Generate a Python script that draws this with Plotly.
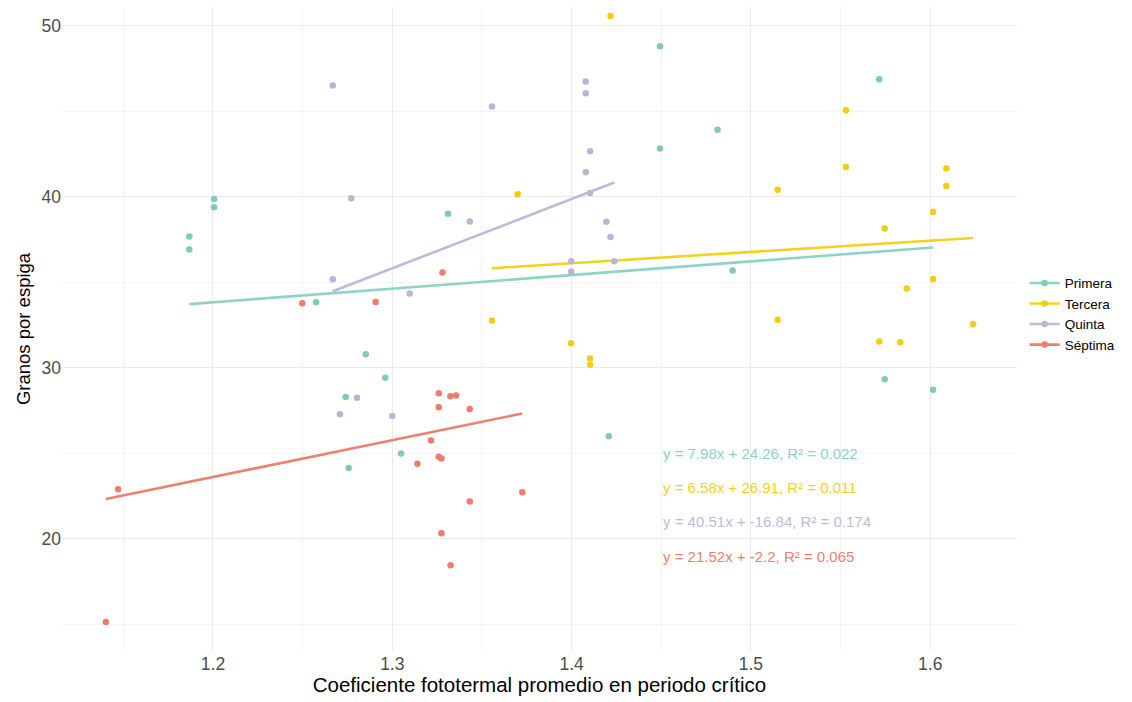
import plotly.graph_objects as go

# ---- data ----
groups = ["Primera", "Tercera", "Quinta", "Séptima"]

primera_x = [1.1868, 1.1868, 1.2006, 1.2006, 1.2575, 1.2740, 1.2757, 1.2852, 1.2961, 1.3049,
             1.3311, 1.4207, 1.4493, 1.4493, 1.4814, 1.4898, 1.5716, 1.5746, 1.6016]
primera_y = [37.68, 36.92, 39.87, 39.40, 33.84, 28.30, 24.15, 30.80, 29.43, 24.99,
             39.02, 26.00, 48.81, 42.83, 43.92, 35.69, 46.88, 29.34, 28.73]

tercera_x = [1.3556, 1.3699, 1.3997, 1.4103, 1.4103, 1.4217, 1.5149, 1.5149, 1.5530, 1.5530,
             1.5716, 1.5746, 1.5833, 1.5869, 1.6016, 1.6016, 1.6090, 1.6090, 1.6239]
tercera_y = [32.77, 40.16, 31.44, 30.55, 30.19, 50.58, 40.41, 32.81, 45.07, 41.74,
             31.54, 38.15, 31.50, 34.64, 39.12, 35.20, 41.66, 40.64, 32.56]

quinta_x = [1.2668, 1.2668, 1.2708, 1.2771, 1.2803, 1.3000, 1.3097, 1.3432, 1.3556, 1.3998,
            1.3998, 1.4079, 1.4079, 1.4079, 1.4103, 1.4103, 1.4194, 1.4217, 1.4238]
quinta_y = [46.51, 35.19, 27.29, 39.92, 28.26, 27.19, 34.35, 38.56, 45.28, 36.24,
            35.63, 46.74, 46.06, 41.44, 42.67, 40.22, 38.54, 37.66, 36.24]

septima_x = [1.1403, 1.1471, 1.2498, 1.2907, 1.3140, 1.3216, 1.3259, 1.3259, 1.3259, 1.3274,
             1.3274, 1.3280, 1.3324, 1.3356, 1.3325, 1.3432, 1.3432, 1.3725]
septima_y = [15.15, 22.90, 33.78, 33.86, 24.40, 25.75, 28.52, 27.70, 24.80, 24.70,
             20.33, 35.58, 28.34, 28.38, 18.46, 27.60, 22.19, 22.73]

slopes = [7.98, 6.58, 40.51, 21.52]
intercepts = [24.26, 26.91, -16.84, -2.2]
r2 = [0.022, 0.011, 0.174, 0.065]
label_y = [25, 23, 21, 19]
label_x = 1.45

xs = [primera_x, tercera_x, quinta_x, septima_x]
ys = [primera_y, tercera_y, quinta_y, septima_y]

point_colors = ["#80CBB8", "#F2CD12", "#B9B5D6", "#EE7D6B"]
line_colors = ["#8DD3C7", "#F2D21C", "#BEBADA", "#EC8171"]

fig = go.Figure()
for g, x, y, m, b, pc, lc in zip(groups, xs, ys, slopes, intercepts, point_colors, line_colors):
    fig.add_trace(go.Scatter(x=x, y=y, mode="markers", name=g, legendgroup=g, showlegend=False,
                             marker=dict(color=pc, size=6.5)))
    x0, x1 = min(x), max(x)
    fig.add_trace(go.Scatter(x=[x0, x1], y=[m * x0 + b, m * x1 + b], mode="lines", legendgroup=g,
                             showlegend=False, line=dict(color=lc, width=2.6), hoverinfo="skip"))
    fig.add_trace(go.Scatter(x=[None], y=[None], mode="lines+markers", name=g, legendgroup=g,
                             line=dict(color=lc, width=2.6), marker=dict(color=pc, size=6.5)))

for m, b, r, ly, lc in zip(slopes, intercepts, r2, label_y, line_colors):
    fig.add_annotation(x=label_x, y=ly, xref="x", yref="y", xanchor="left", yanchor="middle",
                       showarrow=False, text=f"y = {m}x + {b}, R² = {r}",
                       font=dict(color=lc, size=15, family="Liberation Sans, Arial"))

fig.update_layout(
    width=1132, height=702,
    margin=dict(l=62, r=115, t=7, b=51),
    plot_bgcolor="white", paper_bgcolor="white",
    font=dict(family="Liberation Sans, Arial", color="#000000"),
    legend=dict(x=1.008, y=0.523, xanchor="left", yanchor="middle",
                font=dict(size=13.5, color="#000000"), tracegroupgap=0, itemwidth=30),
    showlegend=True,
)
fig.update_xaxes(
    range=[1.1158, 1.6484], dtick=0.1, tick0=1.2, tickformat=".1f",
    showgrid=True, gridcolor="#EBEBEB", gridwidth=1.1, zeroline=False, showline=False,
    ticks="", tickfont=dict(size=17.5, color="#4D4D4D"),
    minor=dict(dtick=0.05, tick0=1.15, showgrid=True, gridcolor="#F4F4F4", gridwidth=0.8),
    title=dict(text="Coeficiente fototermal promedio en periodo crítico", font=dict(size=20.5, color="#000000"),
               standoff=4),
)
fig.update_yaxes(
    range=[13.45, 51.1], dtick=10, tick0=20,
    showgrid=True, gridcolor="#EBEBEB", gridwidth=1.1, zeroline=False, showline=False,
    ticks="", tickfont=dict(size=17.5, color="#4D4D4D"),
    minor=dict(dtick=5, tick0=15, showgrid=True, gridcolor="#F4F4F4", gridwidth=0.8),
    title=dict(text="Granos por espiga", font=dict(size=18.5, color="#000000"), standoff=6),
)

fig.write_html("out.html")
